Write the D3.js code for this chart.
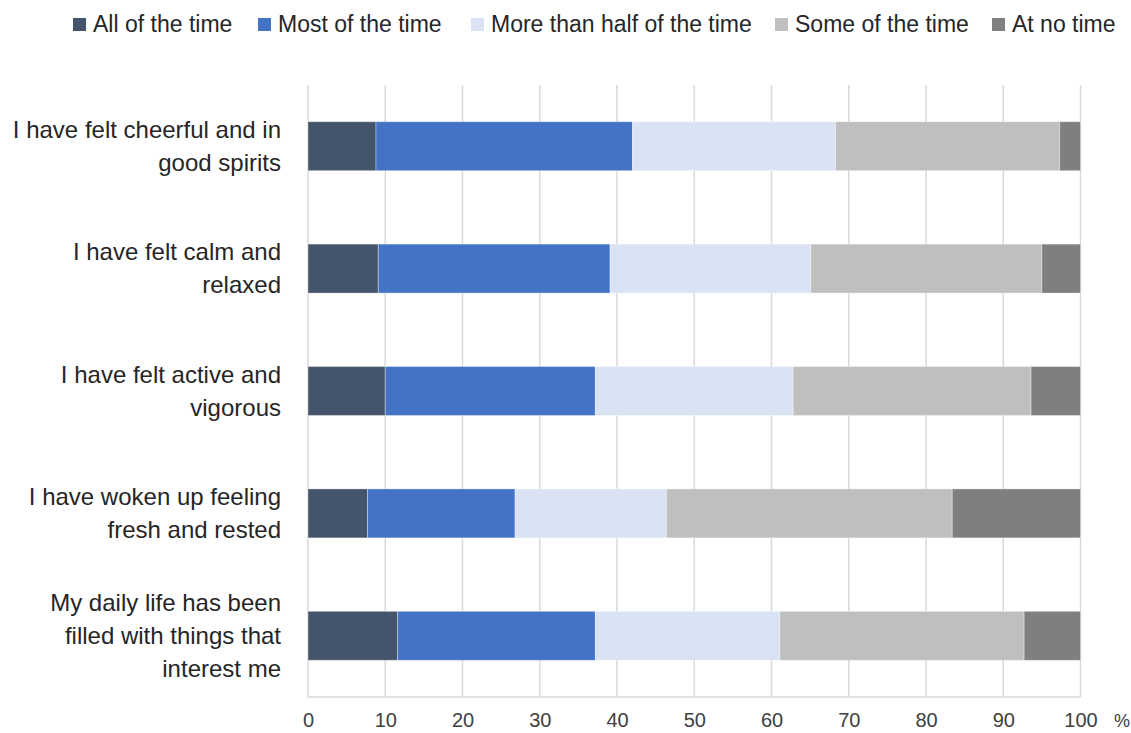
<!DOCTYPE html>
<html>
<head>
<meta charset="utf-8">
<script src="https://cdn.jsdelivr.net/npm/d3@7"></script>
<style>
  html, body { margin: 0; padding: 0; background: #fff; }
  svg { display: block; }
</style>
</head>
<body>
<svg id="chart" width="1131" height="733"></svg>
<script>
// Survey items (top to bottom)
const categories = [
  ["I have felt cheerful and in", "good spirits"],
  ["I have felt calm and", "relaxed"],
  ["I have felt active and", "vigorous"],
  ["I have woken up feeling", "fresh and rested"],
  ["My daily life has been", "filled with things that", "interest me"]
];

// Response options and their colours
const seriesNames = ["All of the time", "Most of the time", "More than half of the time", "Some of the time", "At no time"];
const seriesColors = ["#44546A", "#4472C4", "#DAE3F3", "#BFBFBF", "#7F7F7F"];

// Share of respondents (%) per item, one array per response option
const allOfTheTime      = [8.8, 9.1, 10.0, 7.7, 11.6];
const mostOfTheTime     = [33.2, 30.0, 27.2, 19.1, 25.6];
const moreThanHalf      = [26.3, 26.0, 25.6, 19.6, 23.9];
const someOfTheTime     = [29.0, 29.9, 30.8, 37.0, 31.6];
const atNoTime          = [2.7, 5.0, 6.4, 16.6, 7.3];

const tickValues = [0, 10, 20, 30, 40, 50, 60, 70, 80, 90, 100];

const seriesValues = [allOfTheTime, mostOfTheTime, moreThanHalf, someOfTheTime, atNoTime];

const svg = d3.select("#chart");
const margin = { left: 308, right: 50, top: 85, bottom: 36 };
const W = 1131, H = 733;
const plotRight = W - margin.right;
const plotBottom = H - margin.bottom;

const x = d3.scaleLinear().domain([0, 100]).range([margin.left, plotRight - 0.5]);
const y = d3.scaleBand().domain(d3.range(categories.length)).range([margin.top, plotBottom]).paddingInner(0.6).paddingOuter(0.3);

// Gridlines
svg.append("g")
  .selectAll("line")
  .data(tickValues)
  .join("line")
  .attr("x1", d => x(d)).attr("x2", d => x(d))
  .attr("y1", margin.top).attr("y2", plotBottom)
  .attr("stroke", "#D9D9D9").attr("stroke-width", 1.5);

// Bottom axis line
svg.append("line")
  .attr("x1", x(0)).attr("x2", x(100))
  .attr("y1", plotBottom).attr("y2", plotBottom)
  .attr("stroke", "#D9D9D9").attr("stroke-width", 1.5);

// Stacked bars
const rows = categories.map((c, i) => {
  let acc = 0;
  return seriesValues.map((s, k) => {
    const seg = { row: i, k, x0: acc, x1: acc + s[i] };
    acc += s[i];
    return seg;
  });
});

svg.append("g")
  .selectAll("g")
  .data(rows)
  .join("g")
  .selectAll("rect")
  .data(d => d)
  .join("rect")
  .attr("x", d => x(d.x0))
  .attr("width", d => x(d.x1) - x(d.x0))
  .attr("y", d => y(d.row))
  .attr("height", y.bandwidth())
  .attr("fill", d => seriesColors[d.k])
  .attr("stroke", "#ffffff")
  .attr("stroke-opacity", 0.35)
  .attr("stroke-width", 1);

// X axis tick labels
const xAxis = d3.axisBottom(x).tickValues(tickValues).tickSize(0).tickPadding(0);
const gx = svg.append("g")
  .attr("transform", `translate(0, ${plotBottom + 30})`)
  .call(xAxis);
gx.select(".domain").remove();
gx.selectAll("text")
  .attr("dy", 0)
  .attr("font-family", "'Liberation Sans Narrow', 'Arial Narrow', 'Liberation Sans', Arial, sans-serif")
  .attr("font-size", 20)
  .attr("fill", "#404040");

svg.append("text")
  .attr("x", 1122).attr("y", plotBottom + 30)
  .attr("text-anchor", "middle")
  .attr("font-family", "'Liberation Sans Narrow', 'Arial Narrow', 'Liberation Sans', Arial, sans-serif")
  .attr("font-size", 18)
  .attr("fill", "#404040")
  .text("%");

// Category labels
const labelG = svg.append("g");
categories.forEach((lines, i) => {
  const cy = y(i) + y.bandwidth() / 2;
  const lh = 33;
  const t = labelG.append("text")
    .attr("text-anchor", "end")
    .attr("font-family", "'Liberation Sans Narrow', 'Arial Narrow', 'Liberation Sans', Arial, sans-serif")
    .attr("font-size", 24)
    .attr("fill", "#262626");
  lines.forEach((ln, j) => {
    t.append("tspan")
      .attr("x", 281)
      .attr("y", cy + (j - (lines.length - 1) / 2) * lh + 8)
      .text(ln);
  });
});

// Legend
const legendX = [73, 258, 471, 775, 992];
const lg = svg.append("g");
seriesNames.forEach((name, k) => {
  lg.append("rect")
    .attr("x", legendX[k]).attr("y", 18)
    .attr("width", 13).attr("height", 13)
    .attr("fill", seriesColors[k]);
  lg.append("text")
    .attr("x", legendX[k] + 20).attr("y", 32)
    .attr("font-family", "'Liberation Sans Narrow', 'Arial Narrow', 'Liberation Sans', Arial, sans-serif")
    .attr("font-size", 23)
    .attr("fill", "#262626")
    .text(name);
});
</script>
</body>
</html>
